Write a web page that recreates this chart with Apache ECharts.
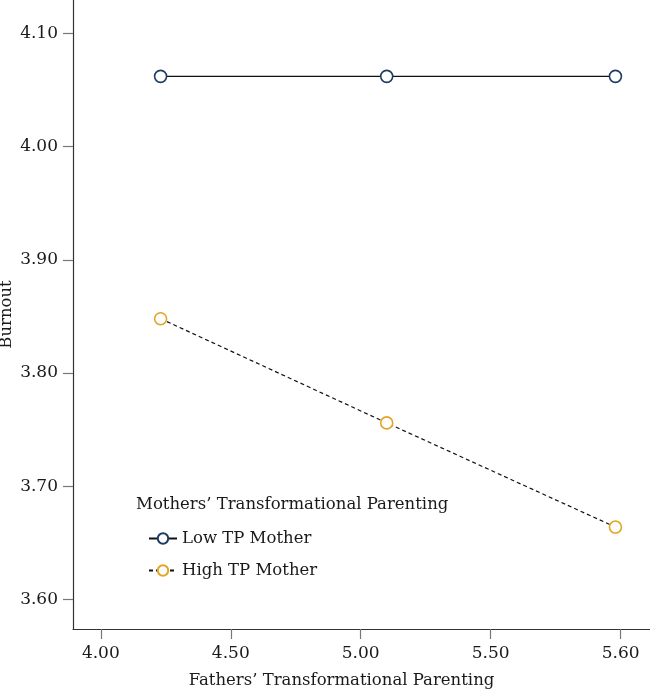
<!DOCTYPE html>
<html>
<head>
<meta charset="utf-8">
<script src="https://cdn.jsdelivr.net/npm/echarts@6/dist/echarts.min.js"></script>
<style>html,body{margin:0;padding:0;background:#fff}#c{width:650px;height:692px}</style>
</head>
<body>
<div id="c"></div>
<script>
var xValues = [4.23, 5.10, 5.98];
var lowTP = [4.062, 4.062, 4.062];
var highTP = [3.848, 3.756, 3.664];
var xTickValues = [4.0, 4.5, 5.0, 5.5, 6.0];
var xTickLabels = ["4.00", "4.50", "5.00", "5.50", "5.60"];
var yTickValues = [3.6, 3.7, 3.8, 3.9, 4.0, 4.1];
var yTickLabels = ["3.60", "3.70", "3.80", "3.90", "4.00", "4.10"];
var seriesNames = ["Low TP Mother", "High TP Mother"];
var legendTitle = "Mothers\u2019 Transformational Parenting";
var xName = "Fathers\u2019 Transformational Parenting";
var yName = "Burnout";

var FONT = "DejaVu Serif";
var FS = 17, FS2 = 16.5;
var navy = "#1d3b63", gold = "#e3a624";
function lookup(vals, labels, v) {
  var best = 0, d = Infinity;
  for (var i = 0; i < vals.length; i++) { var dd = Math.abs(vals[i] - v); if (dd < d) { d = dd; best = i; } }
  return labels[best];
}
function pairs(xs, ys) { return xs.map(function (x, i) { return [x, ys[i]]; }); }

var chart = echarts.init(document.getElementById('c'), null, {renderer: 'canvas'});
chart.setOption({
  animation: false,
  backgroundColor: '#fff',
  textStyle: {fontFamily: FONT},
  grid: {left: 73, right: 0, top: 0, bottom: 63, containLabel: false, outerBoundsMode: 'none'},
  xAxis: {
    type: 'value', min: 3.893, max: 6.113,
    name: xName, nameLocation: 'middle', nameGap: 43, nameMoveOverlap: false,
    nameTextStyle: {fontFamily: FONT, fontSize: FS2, color: '#1a1a1a', padding: [0, 40, 0, 0]},
    axisLine: {show: true, lineStyle: {color: '#333', width: 1.2}},
    axisTick: {show: true, length: 10, inside: false, lineStyle: {color: '#777', width: 1.2}, customValues: xTickValues},
    axisLabel: {show: true, margin: 16, fontFamily: FONT, fontSize: FS, color: '#1a1a1a', customValues: xTickValues,
      formatter: function (v) { return lookup(xTickValues, xTickLabels, v); }},
    splitLine: {show: false}
  },
  yAxis: {
    type: 'value', min: 3.574, max: 4.1294,
    name: yName, nameLocation: 'middle', nameGap: 58, nameRotate: 90, nameMoveOverlap: false,
    nameTextStyle: {fontFamily: FONT, fontSize: FS2, color: '#1a1a1a'},
    axisLine: {show: true, lineStyle: {color: '#333', width: 1.2}},
    axisTick: {show: true, length: 10, inside: false, lineStyle: {color: '#777', width: 1.2}, customValues: yTickValues},
    axisLabel: {show: true, margin: 15, fontFamily: FONT, fontSize: FS, color: '#1a1a1a', customValues: yTickValues,
      formatter: function (v) { return lookup(yTickValues, yTickLabels, v); }},
    splitLine: {show: false}
  },
  legend: {
    orient: 'vertical', left: 143, top: 525, itemWidth: 28, itemHeight: 13, itemGap: 15,
    textStyle: {fontFamily: FONT, fontSize: FS2, color: '#1a1a1a'},
    data: seriesNames
  },
  graphic: [{
    type: 'text', left: 136, top: 496,
    style: {text: legendTitle, font: FS2 + 'px "' + FONT + '"', fill: '#1a1a1a'}
  }],
  series: [{
    name: seriesNames[0], type: 'line', data: pairs(xValues, lowTP),
    symbol: 'circle', symbolSize: 12,
    itemStyle: {color: '#fff', borderColor: navy, borderWidth: 1.6},
    lineStyle: {color: '#111', width: 1.2, type: 'solid'}
  }, {
    name: seriesNames[1], type: 'line', data: pairs(xValues, highTP),
    symbol: 'circle', symbolSize: 12,
    itemStyle: {color: '#fff', borderColor: gold, borderWidth: 1.6},
    lineStyle: {color: '#111', width: 1.2, type: [4, 3]}
  }]
});
</script>
</body>
</html>
